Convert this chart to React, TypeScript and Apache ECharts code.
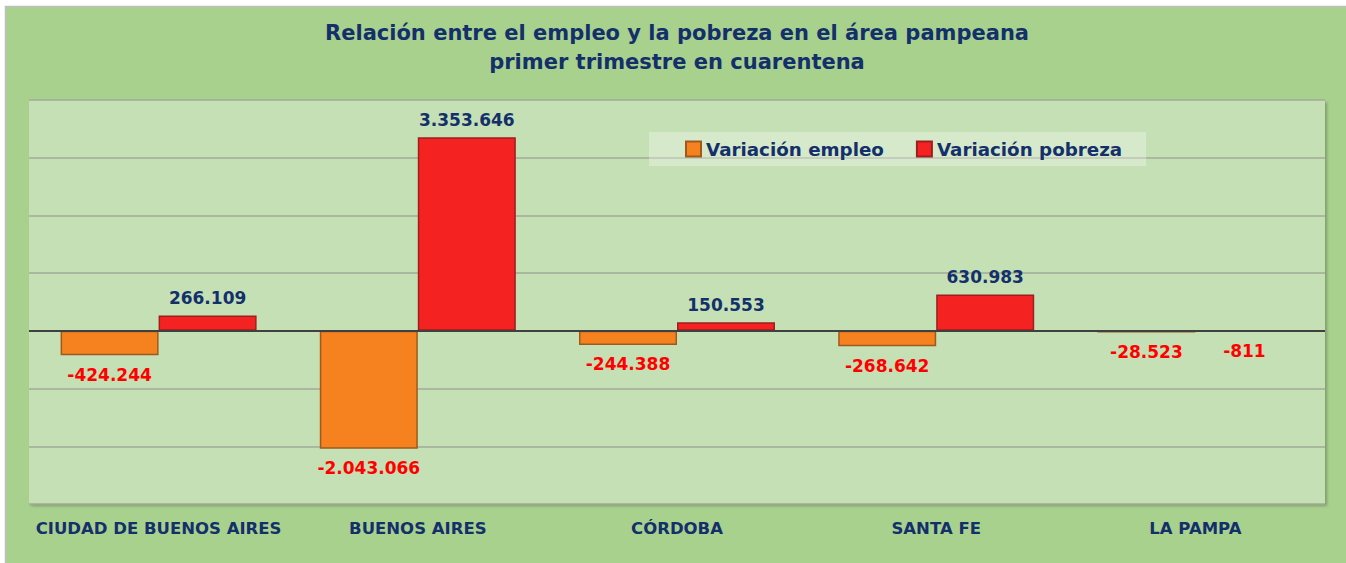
import React, { useEffect, useRef } from "react";
import * as echarts from "echarts";

const categories = ["CIUDAD DE BUENOS AIRES", "BUENOS AIRES", "CÓRDOBA", "SANTA FE", "LA PAMPA"];
const empleo = [-424244, -2043066, -244388, -268642, -28523];
const pobreza = [266109, 3353646, 150553, 630983, -811];
const seriesNames = ["Variación empleo", "Variación pobreza"];
const titleLines = ["Relación entre el empleo y la pobreza en el área pampeana", "primer trimestre en cuarentena"];
const yMin = -3000000;
const yMax = 4000000;
const yStep = 1000000;

const NAVY = "#13306b";
const RED_TEXT = "#ff0000";
const FONT = "'DejaVu Sans', Verdana, sans-serif";

function fmt(v: number): string {
  const s = Math.abs(Math.round(v)).toString().replace(/\B(?=(\d{3})+(?!\d))/g, ".");
  return (v < 0 ? "-" : "") + s;
}

function makeData(values: number[]) {
  return values.map((v) => ({
    value: v,
    label: {
      show: true,
      position: v >= 0 ? "top" : "bottom",
      distance: v >= 0 ? 9 : 11,
      color: v >= 0 ? NAVY : RED_TEXT,
      fontSize: 17,
      fontWeight: "bold",
      fontFamily: FONT,
      formatter: () => fmt(v),
    },
  }));
}

export default function App() {
  const ref = useRef<HTMLDivElement>(null);
  useEffect(() => {
    document.body.style.margin = "0";
    const chart = echarts.init(ref.current!, null, { renderer: "svg" });
    chart.setOption({
      animation: false,
      backgroundColor: "#ffffff",
      graphic: [
        {
          type: "rect",
          z: -100,
          silent: true,
          shape: { x: 5.5, y: 6.5, width: 1345, height: 560 },
          style: { fill: "#a9d18e", stroke: "#bfbfbf", lineWidth: 1.5 },
        },
        {
          type: "text",
          x: 677,
          y: 33,
          silent: true,
          style: {
            text: titleLines[0],
            textAlign: "center",
            textVerticalAlign: "middle",
            fill: NAVY,
            font: `bold 21px ${FONT}`,
          },
        },
        {
          type: "text",
          x: 677,
          y: 62,
          silent: true,
          style: {
            text: titleLines[1],
            textAlign: "center",
            textVerticalAlign: "middle",
            fill: NAVY,
            font: `bold 21px ${FONT}`,
          },
        },
      ],
      legend: {
        data: seriesNames,
        left: 649,
        top: 132,
        padding: [8, 24, 8, 36],
        itemWidth: 15,
        itemHeight: 15,
        itemGap: 32,
        icon: "rect",
        backgroundColor: "rgba(255,255,255,0.3)",
        textStyle: { color: NAVY, fontSize: 18.3, fontWeight: "bold", fontFamily: FONT },
      },
      grid: {
        left: 29,
        top: 100,
        width: 1296,
        height: 404,
        show: true,
        backgroundColor: "#c5e0b4",
        borderWidth: 0,
        shadowColor: "rgba(0,0,0,0.25)",
        shadowBlur: 3,
        shadowOffsetX: 2,
        shadowOffsetY: 2,
      },
      xAxis: {
        type: "category",
        data: categories,
        axisLine: { show: false },
        axisTick: { show: false },
        axisLabel: {
          margin: 16,
          color: NAVY,
          fontSize: 16.5,
          fontWeight: "bold",
          fontFamily: FONT,
          interval: 0,
        },
      },
      yAxis: {
        type: "value",
        min: yMin,
        max: yMax,
        interval: yStep,
        axisLabel: { show: false },
        axisLine: { show: false },
        axisTick: { show: false },
        splitLine: { lineStyle: { color: "#a2ab98", width: 1.5 } },
      },
      series: [
        {
          name: seriesNames[0],
          type: "bar",
          barWidth: 98,
          barGap: "0%",
          data: makeData(empleo),
          itemStyle: {
            color: "#f5821f",
            borderColor: "#9e5a1c",
            borderWidth: 1.5,
          },
          markLine: {
            silent: true,
            symbol: "none",
            label: { show: false },
            lineStyle: { color: "#404040", width: 2, type: "solid" },
            data: [{ yAxis: 0 }],
          },
          z: 3,
        },
        {
          name: seriesNames[1],
          type: "bar",
          barWidth: 98,
          data: makeData(pobreza),
          itemStyle: {
            color: "#f52222",
            borderColor: "#9c1f1f",
            borderWidth: 1.5,
          },
          z: 3,
        },
      ],
    });
    return () => chart.dispose();
  }, []);
  return <div ref={ref} style={{ width: 1346, height: 563 }} />;
}
